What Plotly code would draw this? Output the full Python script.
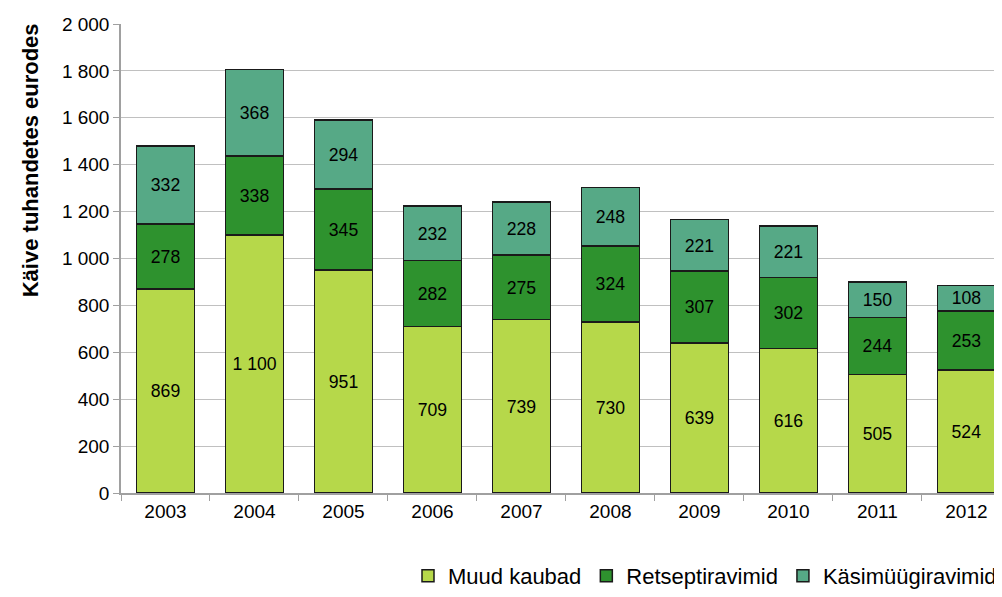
import plotly.graph_objs as go

years = ['2003', '2004', '2005', '2006', '2007', '2008', '2009', '2010', '2011', '2012']
muud_kaubad = [869, 1100, 951, 709, 739, 730, 639, 616, 505, 524]
retseptiravimid = [278, 338, 345, 282, 275, 324, 307, 302, 244, 253]
kasimuugiravimid = [332, 368, 294, 232, 228, 248, 221, 221, 150, 108]

series = [
    ('Muud kaubad', muud_kaubad, '#b6d84a'),
    ('Retseptiravimid', retseptiravimid, '#2e922e'),
    ('Käsimüügiravimid', kasimuugiravimid, '#56a986'),
]

fig = go.Figure()

for name, values, color in series:
    fig.add_trace(go.Bar(
        x=years, y=values, name=name,
        marker=dict(color=color, line=dict(color='#1a1a1a', width=1.5)),
        texttemplate='%{y:,.0f}', textposition='inside', insidetextanchor='middle',
        textfont=dict(color='black', size=21), textangle=0,
        width=0.65,
    ))

# page body adds 8px offset, so figure is a bit smaller than the window
fig.update_layout(
    barmode='stack',
    width=994, height=589,
    margin=dict(l=113, r=0, t=16, b=104),
    paper_bgcolor='white', plot_bgcolor='white',
    font=dict(family='Liberation Sans, Arial, sans-serif', color='black', size=19),
    separators=', ',
    uniformtext=dict(minsize=10, mode='show'),
    legend=dict(orientation='h', x=1.0, xanchor='right', y=-0.222, yanchor='bottom',
                font=dict(size=22), traceorder='normal', itemwidth=30),
    showlegend=True,
)

# axis title sits high in the original, so use an annotation
fig.add_annotation(
    text='<b>Käive tuhandetes eurodes</b>', textangle=-90,
    xref='paper', yref='paper', x=-0.103, y=0.71,
    xanchor='center', yanchor='middle', showarrow=False,
    font=dict(size=22),
)

fig.update_xaxes(
    type='category', range=[-0.5, 9.4],
    showline=True, linecolor='#a0a0a0', linewidth=1.5,
    ticks='outside', tickson='boundaries', ticklen=6, tickcolor='#a0a0a0',
    showgrid=False, tickfont=dict(size=19),
)
fig.update_yaxes(
    range=[0, 2000], dtick=200, tickformat=',d',
    showline=True, linecolor='#a0a0a0', linewidth=1.5,
    ticks='outside', ticklen=6, tickcolor='#a0a0a0',
    showgrid=True, gridcolor='#c0c0c0', gridwidth=1.2,
    tickfont=dict(size=19),
)

fig.write_html("out.html")
